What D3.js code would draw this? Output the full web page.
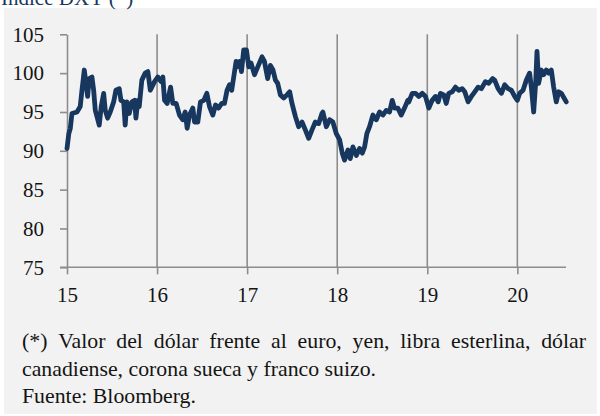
<!doctype html>
<html lang="es">
<head>
<meta charset="utf-8">
<title>Índice DXY</title>
<script src="https://cdn.jsdelivr.net/npm/d3@7"></script>
<style>
  body { margin: 0; background: #fff; }
  svg { display: block; font-family: "Times New Roman", "Liberation Serif", Times, "DejaVu Serif", serif; }
</style>
</head>
<body>
<svg id="chart" width="600" height="416"></svg>
<script>
// DXY, decimal year (15 = Jan 2015) and index value
const years = [
  15.000, 15.020, 15.037, 15.055, 15.111, 15.147, 15.166, 15.192, 15.211, 15.229,
  15.247, 15.277, 15.296, 15.314, 15.333, 15.358, 15.380, 15.407, 15.425, 15.451,
  15.480, 15.518, 15.543, 15.580, 15.599, 15.629, 15.646, 15.665, 15.691, 15.721,
  15.751, 15.765, 15.787, 15.802, 15.831, 15.868, 15.898, 15.925, 15.972, 16.009,
  16.045, 16.064, 16.083, 16.112, 16.150, 16.175, 16.212, 16.249, 16.286, 16.312,
  16.334, 16.360, 16.397, 16.416, 16.452, 16.482, 16.519, 16.552, 16.582, 16.619,
  16.649, 16.682, 16.718, 16.748, 16.777, 16.804, 16.829, 16.851, 16.877, 16.888,
  16.918, 16.937, 16.962, 16.992, 17.018, 17.043, 17.081, 17.118, 17.165, 17.192,
  17.228, 17.258, 17.287, 17.314, 17.339, 17.369, 17.406, 17.442, 17.472, 17.498,
  17.536, 17.572, 17.609, 17.646, 17.683, 17.720, 17.757, 17.794, 17.830, 17.841,
  17.879, 17.916, 17.952, 17.990, 18.027, 18.056, 18.082, 18.119, 18.145, 18.174,
  18.212, 18.248, 18.278, 18.304, 18.329, 18.359, 18.396, 18.434, 18.470, 18.507,
  18.544, 18.581, 18.611, 18.636, 18.673, 18.711, 18.747, 18.784, 18.795, 18.833,
  18.869, 18.906, 18.944, 18.980, 19.017, 19.054, 19.091, 19.121, 19.146, 19.183,
  19.210, 19.238, 19.276, 19.313, 19.349, 19.387, 19.416, 19.453, 19.490, 19.527,
  19.564, 19.601, 19.645, 19.682, 19.726, 19.748, 19.786, 19.823, 19.859, 19.897,
  19.933, 19.970, 20.000, 20.026, 20.063, 20.100, 20.136, 20.155, 20.181, 20.203,
  20.218, 20.236, 20.266, 20.292, 20.322, 20.347, 20.377, 20.403, 20.432, 20.458,
  20.488, 20.518, 20.543
];
const dxy = [
  90.3, 92.2, 92.9, 94.8, 95.0, 95.7, 97.8, 100.4, 98.7, 97.0,
  99.3, 99.5, 97.8, 95.2, 94.4, 93.3, 95.7, 97.4, 95.2, 94.2,
  95.0, 96.3, 97.8, 98.0, 96.5, 96.3, 93.3, 96.3, 94.8, 96.3,
  96.5, 94.2, 96.5, 95.7, 99.1, 100.0, 100.2, 97.8, 98.9, 99.5,
  98.9, 99.5, 96.5, 96.1, 98.2, 96.1, 96.1, 94.6, 94.0, 95.0,
  92.9, 94.6, 95.5, 93.7, 93.7, 96.3, 96.5, 97.4, 95.7, 94.6,
  95.9, 95.5, 96.1, 96.1, 97.8, 98.5, 97.8, 99.5, 101.5, 100.8,
  101.5, 100.2, 103.0, 103.0, 100.8, 101.3, 99.8, 100.8, 102.1, 101.5,
  99.3, 101.0, 100.4, 99.1, 98.7, 97.2, 96.8, 97.2, 97.6, 96.1,
  94.4, 93.1, 93.7, 92.7, 91.6, 92.7, 93.7, 93.5, 94.8, 95.0,
  93.1, 94.0, 93.7, 92.2, 91.4, 89.7, 88.8, 90.1, 89.0, 90.5,
  89.4, 90.3, 89.7, 90.5, 92.2, 93.1, 94.6, 94.0, 95.0, 94.6,
  95.2, 95.0, 96.5, 95.5, 95.5, 94.6, 95.5, 96.5, 96.3, 97.4,
  97.4, 97.0, 97.4, 97.0, 95.5, 96.5, 97.0, 96.3, 97.4, 97.2,
  96.1, 97.4, 97.6, 98.2, 97.8, 98.0, 97.6, 96.3, 97.0, 97.6,
  98.2, 98.0, 98.9, 98.7, 99.3, 99.1, 98.0, 97.4, 98.5, 98.0,
  97.8, 97.0, 96.5, 97.4, 97.8, 99.1, 100.0, 98.2, 95.0, 98.7,
  102.8, 98.7, 100.4, 99.8, 100.4, 100.0, 100.4, 98.2, 96.3, 97.6,
  97.4, 96.8, 96.3
];
const xTicks = [15, 16, 17, 18, 19, 20];
const yTicks = [75, 80, 85, 90, 95, 100, 105];
const title = "Índice DXY (*)";
const noteLines = [
  "(*) Valor del dólar frente al euro, yen, libra esterlina, dólar",
  "canadiense, corona sueca y franco suizo.",
  "Fuente: Bloomberg."
];

const svg = d3.select("#chart");
const serif = "'Times New Roman', 'Liberation Serif', Times, 'DejaVu Serif', serif";
const axisColor = "#8c8c8c";
const textColor = "#141414";
const navy = "#17375e";

svg.append("rect")
  .attr("x", 4).attr("y", 8).attr("width", 593).attr("height", 406)
  .attr("fill", "#f2f2f2");

// title sits mostly above the frame, as in the source
svg.append("text")
  .attr("x", 1).attr("y", 5)
  .attr("font-family", serif)
  .attr("font-size", 21).attr("fill", navy)
  .text(title);

const x = d3.scaleLinear().domain([15, 20.54]).range([67, 566]);
const y = d3.scaleLinear().domain([75, 105]).range([267.3, 34.3]);

// vertical year gridlines
svg.append("g")
  .selectAll("line")
  .data(xTicks.slice(1))
  .join("line")
  .attr("x1", d => x(d)).attr("x2", d => x(d))
  .attr("y1", y(105)).attr("y2", y(75))
  .attr("stroke", axisColor).attr("stroke-width", 1.6);

const yAxis = svg.append("g")
  .attr("transform", `translate(${x(15)},0)`)
  .call(d3.axisLeft(y).tickValues(yTicks).tickSize(7).tickPadding(16).tickSizeOuter(0));

const xAxis = svg.append("g")
  .attr("transform", `translate(0,${y(75)})`)
  .call(d3.axisBottom(x).tickValues(xTicks).tickFormat(d3.format("d"))
    .tickSize(7).tickPadding(13).tickSizeOuter(0));

for (const g of [xAxis, yAxis]) {
  g.attr("font-family", serif).attr("font-size", 21);
  g.select(".domain").attr("stroke", axisColor).attr("stroke-width", 1.6);
  g.selectAll(".tick line").attr("stroke", axisColor).attr("stroke-width", 1.6);
  g.selectAll(".tick text").attr("fill", textColor);
}
// x axis line reaches back to the 75 tick
xAxis.select(".domain").attr("d", `M${x(15) - 7},0H${x(20.54)}`);

const line = d3.line()
  .x((d, i) => x(years[i]))
  .y(d => y(d));

svg.append("path")
  .datum(dxy)
  .attr("d", line)
  .attr("fill", "none")
  .attr("stroke", navy)
  .attr("stroke-width", 4.8)
  .attr("stroke-linejoin", "round")
  .attr("stroke-linecap", "round");

// footnote; first line justified between 22 and 586
const noteY = [348, 376, 403];
const noteSize = 21.8;
const first = svg.append("g").attr("font-family", serif).attr("font-size", noteSize).attr("fill", textColor);
const words = noteLines[0].split(" ");
const wordNodes = words.map(w => first.append("text").attr("y", noteY[0]).text(w));
const widths = wordNodes.map(n => n.node().getComputedTextLength());
const gap = (586 - 22 - d3.sum(widths)) / (words.length - 1);
let cx = 22;
wordNodes.forEach((n, i) => { n.attr("x", cx); cx += widths[i] + gap; });

noteLines.slice(1).forEach((t, i) => {
  svg.append("text")
    .attr("x", 22).attr("y", noteY[i + 1])
    .attr("font-family", serif)
    .attr("font-size", noteSize).attr("fill", textColor)
    .text(t);
});
</script>
</body>
</html>
